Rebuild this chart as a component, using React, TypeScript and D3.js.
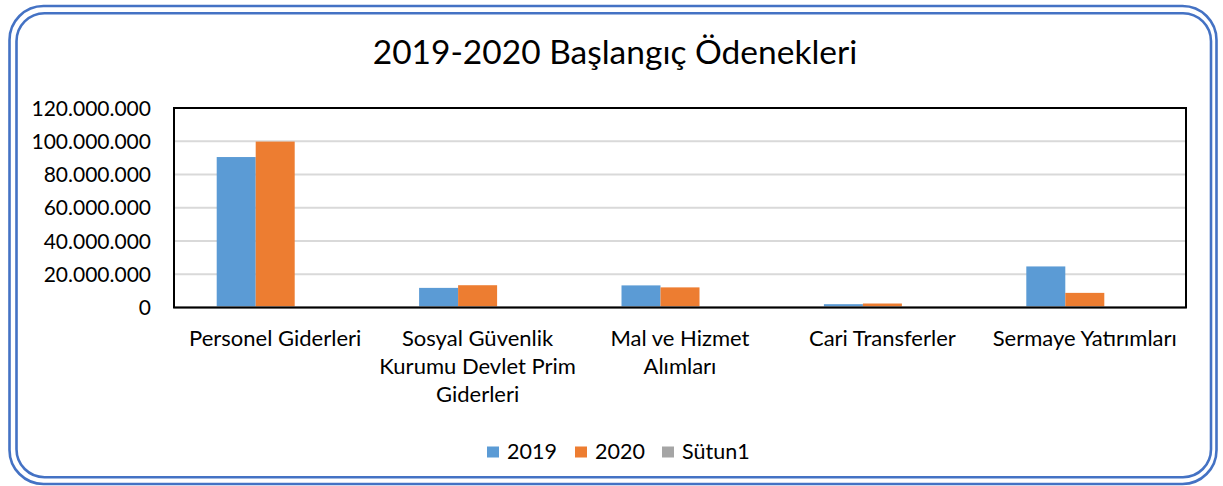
import React from "react";
import * as d3 from "d3";

const categories: string[][] = [
  ["Personel Giderleri"],
  ["Sosyal Güvenlik", "Kurumu Devlet Prim", "Giderleri"],
  ["Mal ve Hizmet", "Alımları"],
  ["Cari Transferler"],
  ["Sermaye Yatırımları"],
];
const categoryKeys = ["Personel Giderleri", "Sosyal Güvenlik Kurumu Devlet Prim Giderleri", "Mal ve Hizmet Alımları", "Cari Transferler", "Sermaye Yatırımları"];
const seriesNames = ["2019", "2020", "Sütun1"];
const values2019 = [90500000, 11800000, 13300000, 2000000, 24700000];
const values2020 = [99800000, 13400000, 12100000, 2400000, 8800000];
const valuesSutun1: (number | null)[] = [null, null, null, null, null];
const seriesColors = ["#5b9bd5", "#ed7d31", "#a5a5a5"];
const yTicks = [0, 20000000, 40000000, 60000000, 80000000, 100000000, 120000000];

const W = 1223;
const H = 486;
const FONT = "Lato, 'Open Sans', sans-serif";

export default function App() {
  const left = 174, right = 1186, top = 108, bottom = 307.5;
  const x = d3.scaleBand<string>().domain(categoryKeys).range([left, right]).paddingInner(0).paddingOuter(0);
  const gapRatio = 2.19;
  const barW = x.bandwidth() / (3 + gapRatio);
  const x1 = d3.scaleBand<string>().domain(seriesNames).range([0, barW * 3]);
  const y = d3.scaleLinear().domain([0, 120000000]).range([bottom, top]);
  const loc = d3.formatLocale({ decimal: ",", thousands: ".", grouping: [3], currency: ["", ""] });
  const fmt = loc.format(",");
  const series = [values2019, values2020, valuesSutun1];

  return (
    <svg width={W} height={H} style={{ position: "absolute", left: 0, top: 0, background: "#fff" }}>
      <rect x={9.5} y={6} width={1207} height={478} rx={34} ry={34} fill="none" stroke="#4472c4" strokeWidth={2.6} />
      <rect x={16.5} y={13.2} width={1194.5} height={464} rx={28} ry={28} fill="none" stroke="#4472c4" strokeWidth={2.6} />
      <text x={615} y={63.5} textAnchor="middle" fontFamily={FONT} fontSize={33.5} fill="#000">
        2019-2020 Başlangıç Ödenekleri
      </text>
      {yTicks.filter((t) => t > 0 && t < 120000000).map((t) => (
        <line key={"g" + t} x1={left} x2={right} y1={y(t)} y2={y(t)} stroke="#d9d9d9" strokeWidth={2} />
      ))}
      {series.map((vals, si) =>
        vals.map((v, ci) =>
          v == null ? null : (
            <rect
              key={si + "-" + ci}
              x={(x(categoryKeys[ci]) as number) + (x.bandwidth() - barW * 3) / 2 + (x1(seriesNames[si]) as number)}
              y={y(v)}
              width={x1.bandwidth()}
              height={y(0) - y(v)}
              fill={seriesColors[si]}
            />
          )
        )
      )}
      <line x1={left} x2={right} y1={y(0)} y2={y(0)} stroke="#bfbfbf" strokeWidth={2.5} />
      <rect x={left} y={top} width={right - left} height={bottom - top} fill="none" stroke="#000" strokeWidth={2} />
      {yTicks.map((t) => (
        <text key={"t" + t} x={151} y={y(t) + 7.5} textAnchor="end" fontFamily={FONT} fontSize={21} fill="#000">
          {fmt(t)}
        </text>
      ))}
      {categories.map((lines, ci) => (
        <text key={"c" + ci} textAnchor="middle" fontFamily={FONT} fontSize={22} fill="#000">
          {lines.map((ln, li) => (
            <tspan key={li} x={(x(categoryKeys[ci]) as number) + x.bandwidth() / 2} y={346 + li * 28}>
              {ln}
            </tspan>
          ))}
        </text>
      ))}
      {seriesNames.map((s, i) => {
        const lx = [487, 575, 662][i];
        return (
          <g key={"l" + s}>
            <rect x={lx} y={446.5} width={12} height={11} fill={seriesColors[i]} />
            <text x={lx + 20} y={458.5} fontFamily={FONT} fontSize={21.5} fill="#000">
              {s}
            </text>
          </g>
        );
      })}
    </svg>
  );
}
